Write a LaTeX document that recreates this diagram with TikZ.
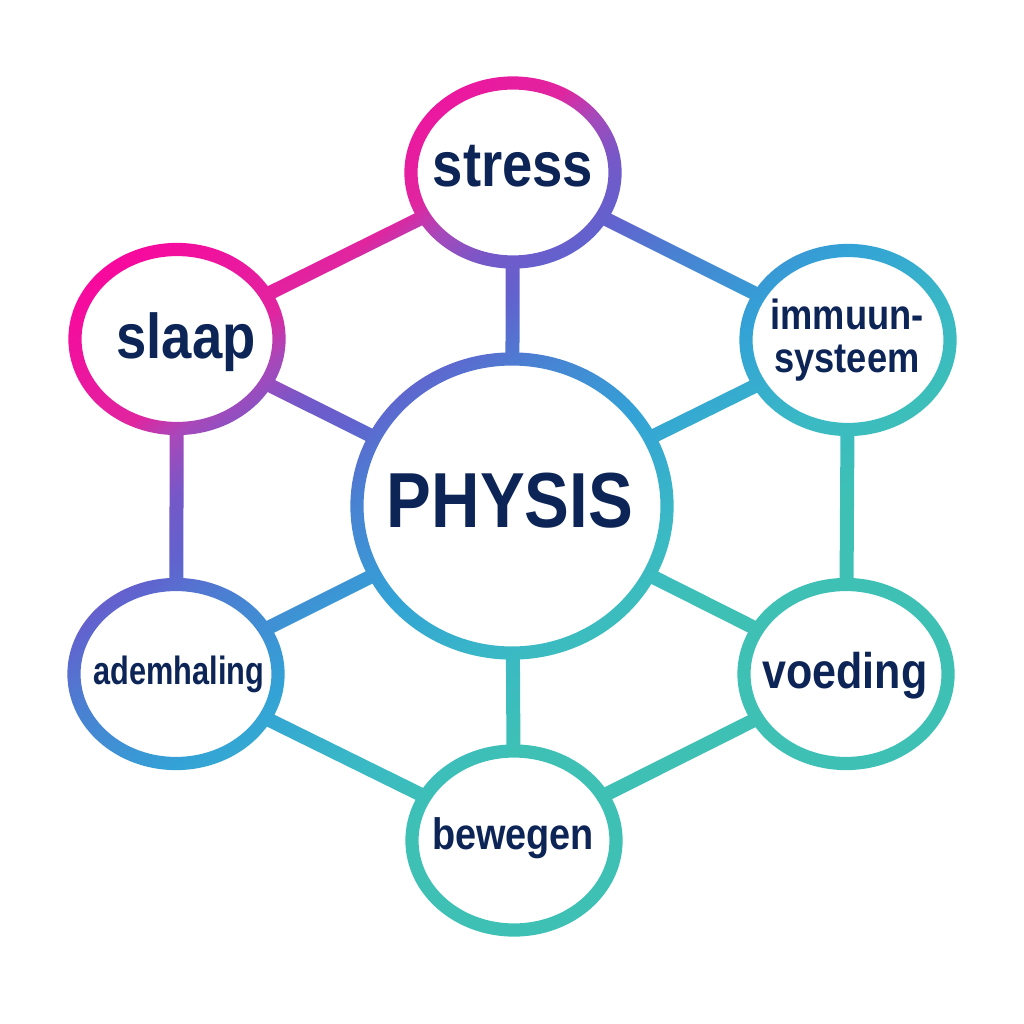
\documentclass[tikz,border=0pt]{standalone}
\usepackage{fontspec}
\newfontfamily\lblfont{Liberation Sans}[FakeStretch=0.86]
\newfontfamily\lblnarrow{Liberation Sans}[FakeStretch=0.78]
\usetikzlibrary{shapes.geometric,backgrounds}
\definecolor{navy}{HTML}{0D2456}
\definecolor{ga}{HTML}{F8089E}
\definecolor{gb}{HTML}{E0259F}
\definecolor{gc}{HTML}{A848BA}
\definecolor{gd}{HTML}{7558C8}
\definecolor{ge}{HTML}{6262CE}
\definecolor{gf}{HTML}{4A80D2}
\definecolor{gg}{HTML}{33A2D6}
\definecolor{gh}{HTML}{3AB9C5}
\definecolor{gi}{HTML}{3EC1B4}
\pgfdeclarehorizontalshading{netgrad}{100bp}{color(0bp)=(ga); color(28.3bp)=(ga); color(35.2bp)=(gb); color(37bp)=(gc); color(39.4bp)=(gd); color(41.7bp)=(ge); color(44.7bp)=(gf); color(49.8bp)=(gg); color(55.1bp)=(gh); color(59.6bp)=(gi); color(100bp)=(gi)}
\begin{document}
\begin{tikzpicture}[x=0.025cm,y=-0.025cm,
  ring/.style={ellipse, draw=black, fill=white, line width=0.33cm, minimum width=5.1cm, minimum height=4.475cm, inner sep=0pt},
  hub/.style={ring, minimum width=7.75cm, minimum height=7.35cm},
  link/.style={draw=black, line width=0.35cm},
  lbl/.style={anchor=base, text=navy, inner sep=0pt, align=center},
  big/.style={font=\lblfont\bfseries\fontsize{55.5}{60}\selectfont},
  mid/.style={font=\lblfont\bfseries\fontsize{45}{50}\selectfont}]
\useasboundingbox (0,0) rectangle (1024,1024);
% rings
\node[hub]  (physis) at (512,506) {};
\node[ring] (stress) at (513,172.5) {};
\node[ring] (slaap)  at (177,339) {};
\node[ring] (immuun) at (848,340) {};
\node[ring] (adem)   at (176,674) {};
\node[ring] (voeding) at (846,674) {};
\node[ring] (bewegen) at (514,840.5) {};
% connectors
\begin{pgfonlayer}{background}
\fill[white] (0,0) rectangle (1024,1024);
\draw[link] (stress.center) -- (slaap.center);
\draw[link] (stress.center) -- (immuun.center);
\draw[link] (slaap.center) -- (adem.center);
\draw[link] (immuun.center) -- (voeding.center);
\draw[link] (adem.center) -- (bewegen.center);
\draw[link] (voeding.center) -- (bewegen.center);
\draw[link] (physis.center) -- (stress.center);
\draw[link] (physis.center) -- (slaap.center);
\draw[link] (physis.center) -- (immuun.center);
\draw[link] (physis.center) -- (adem.center);
\draw[link] (physis.center) -- (voeding.center);
\draw[link] (physis.center) -- (bewegen.center);
\end{pgfonlayer}
% colour gradient over the black strokes
\shade[shading=netgrad, shading angle=-52.4, blend mode=screen] (0,0) rectangle (1024,1024);
% labels
\node[lbl, big] (physis-t) at (510,527) {PHYSIS};
\node[lbl, mid] (stress-t) at (513,187) {stress};
\node[lbl, mid] (slaap-t) at (186,358) {slaap};
\node[lbl, font=\lblfont\bfseries\fontsize{30}{30}\selectfont] (immuun-t) at (847,372) {immuun-\\systeem};
\node[lbl, font=\lblnarrow\bfseries\fontsize{28}{30}\selectfont] (adem-t) at (179,684) {ademhaling};
\node[lbl, font=\lblfont\bfseries\fontsize{35.6}{40}\selectfont] (voeding-t) at (845,688) {voeding};
\node[lbl, font=\lblfont\bfseries\fontsize{31.3}{36}\selectfont] (bewegen-t) at (513,849) {bewegen};
\end{tikzpicture}
\end{document}
